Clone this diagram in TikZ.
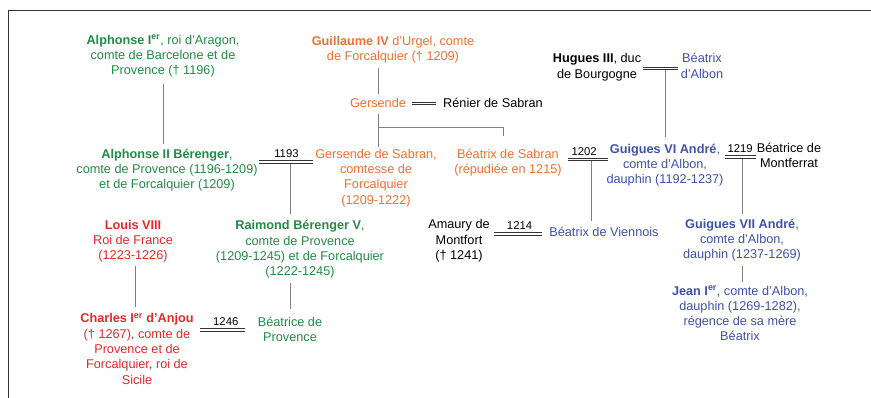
\documentclass[tikz,border=0pt]{standalone}
\usepackage{fontspec}
\setmainfont{Liberation Sans}
\definecolor{cgreen}{RGB}{34,139,68}
\definecolor{corange}{RGB}{242,112,48}
\definecolor{cred}{RGB}{230,40,40}
\definecolor{cblue}{RGB}{62,82,170}
\definecolor{linegray}{RGB}{128,128,128}
\definecolor{framegray}{RGB}{50,50,50}
\begin{document}
\begin{tikzpicture}[x=1pt,y=-1pt,
  txt/.style={inner sep=0pt, align=center, font=\fontsize{12.7pt}{15.3pt}\selectfont},
  conn/.style={draw=linegray, line width=0.8pt},
  marr/.style={draw=black!80, line width=1.15pt, double=white, double distance=1.3pt},
  yr/.style={inner sep=0pt, anchor=base, yshift=4.3pt, font=\fontsize{11.3pt}{13pt}\selectfont},
]
\useasboundingbox (0,0) rectangle (871,398);
\fill[white] (0,0) rectangle (871,398);
\draw[framegray, line width=1pt] (8.5,398) -- (8.5,10.5) -- (871,10.5);

% nodes
\node[txt, cgreen] (a1) at (163,56.2) {\textbf{Alphonse I\textsuperscript{er}}, roi d’Aragon,\\comte de Barcelone et de\\Provence († 1196)};
\node[txt, cgreen] (a2) at (167,170.2) {\textbf{Alphonse II Bérenger},\\comte de Provence (1196-1209)\\et de Forcalquier (1209)};
\node[txt, corange] (g4) at (393,49.7) {\textbf{Guillaume IV} d’Urgel, comte\\de Forcalquier († 1209)};
\node[txt, corange, anchor=base] (ge) at (378,107.5) {Gersende};
\node[txt, anchor=base] (rs) at (493,107.5) {Rénier de Sabran};
\node[txt, corange] (gs) at (376,178) {Gersende de Sabran,\\comtesse de\\Forcalquier\\(1209-1222)};
\node[txt, corange] (bs) at (508,162.7) {Béatrix de Sabran\\(répudiée en 1215)};
\node[txt] (h3) at (597,67.2) {\textbf{Hugues III}, duc\\de Bourgogne};
\node[txt, cblue] (ba) at (702,65.8) {Béatrix\\d’Albon};
\node[txt, cblue] (g6) at (665,165.2) {\textbf{Guigues VI André},\\comte d’Albon,\\dauphin (1192-1237)};
\node[txt] (bm) at (789,155.4) {Béatrice de\\Montferrat};
\node[txt] (am) at (459,240.9) {Amaury de\\Montfort\\(† 1241)};
\node[txt, cblue, anchor=base] (bv) at (604,237) {Béatrix de Viennois};
\node[txt, cgreen] (r5) at (300,249.5) {\textbf{Raimond Bérenger V},\\comte de Provence\\(1209-1245) et de Forcalquier\\(1222-1245)};
\node[txt, cgreen] (bp) at (290,329.4) {Béatrice de\\Provence};
\node[txt, cred] (l8) at (133,241.2) {\textbf{Louis VIII}\\Roi de France\\(1223-1226)};
\node[txt, cred] (c1) at (137,349) {\textbf{Charles I\textsuperscript{er} d’Anjou}\\(† 1267), comte de\\Provence et de\\Forcalquier, roi de\\Sicile};
\node[txt, cblue] (g7) at (742,240.2) {\textbf{Guigues VII André},\\comte d’Albon,\\dauphin (1237-1269)};
\node[txt, cblue] (j1) at (740,313.5) {\textbf{Jean I\textsuperscript{er}}, comte d’Albon,\\dauphin (1269-1282),\\régence de sa mère\\Béatrix};

% marriage points and junctions
\coordinate (d1193) at (290,162);
\coordinate (mG) at (424,103.5);
\coordinate (d1202) at (591,159.5);
\coordinate (d1219) at (742,157);
\coordinate (dHB) at (665,68.5);
\coordinate (d1214) at (517,234);
\coordinate (d1246) at (222,330);
\coordinate (jG) at (378,127);
\coordinate (jB) at (503,136);

% descent lines
\draw[conn, shorten <=6pt, shorten >=5pt] (a1.south) -- (a1.south |- a2.north);
\draw[conn, shorten <=5pt, shorten >=4pt] (ge.north |- g4.south) -- (ge.north);
\draw[conn, shorten <=6.5pt, shorten >=2pt] (ge.south) -- (ge.south |- gs.north);
\draw[conn] (jG) -| (jB);
\draw[conn, shorten >=7pt] (dHB) -- (dHB |- g6.north);
\draw[conn, shorten >=6pt] (d1193) -- (d1193 |- r5.north);
\draw[conn, shorten >=6.5pt] (d1202) -- (d1202 |- bv.north);
\draw[conn, shorten >=5pt] (d1219) -- (d1219 |- g7.north);
\draw[conn, shorten <=4pt, shorten >=4pt] (g7.south) -- (g7.south |- j1.north);
\draw[conn, shorten <=4.5pt, shorten >=7.5pt] (bp.north |- r5.south) -- (bp.north);
\draw[conn, shorten <=3pt, shorten >=6.5pt] ([xshift=2pt]l8.south) -- ([xshift=2pt]l8.south |- c1.north);

% marriages
\draw[marr, shorten <=1pt, shorten >=2pt] (a2.east |- d1193) -- node[yr] {1193} (gs.west |- d1193);
\draw[marr, shorten <=6pt, shorten >=7pt] (ge.east |- mG) -- (rs.west |- mG);
\draw[marr, shorten <=6pt, shorten >=-2pt] (bs.east |- d1202) -- node[yr] {1202} (g6.west |- d1202);
\draw[marr, shorten <=1pt, shorten >=1pt] (g6.east |- d1219) -- node[yr] {1219} (bm.west |- d1219);
\draw[marr, shorten <=2pt, shorten >=3pt] (h3.east |- dHB) -- (ba.west |- dHB);
\draw[marr, shorten <=4pt, shorten >=7pt] (am.east |- d1214) -- node[yr] {1214} (bv.west |- d1214);
\draw[marr, shorten <=6pt, shorten >=13pt] (c1.east |- d1246) -- node[yr] {1246} (bp.west |- d1246);
\end{tikzpicture}
\end{document}
